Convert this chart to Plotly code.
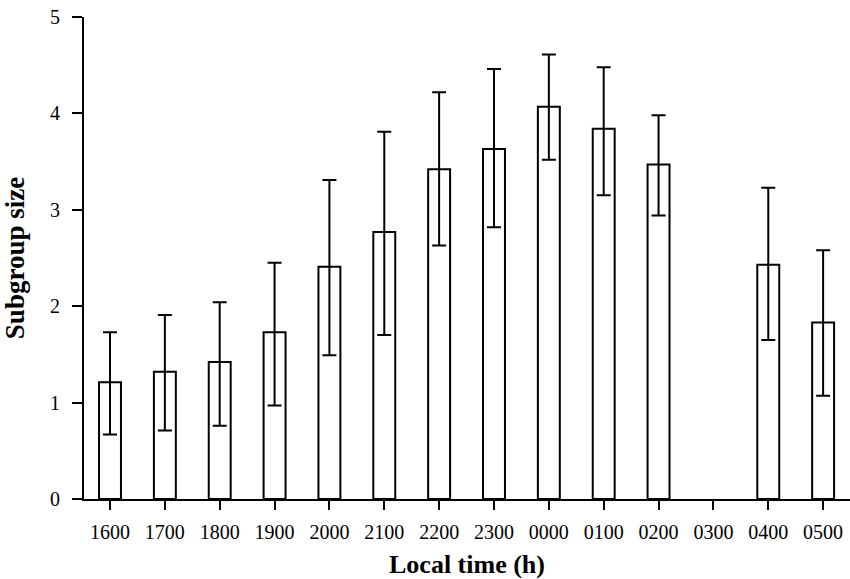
import plotly.graph_objects as go

categories = ["1600", "1700", "1800", "1900", "2000", "2100", "2200",
              "2300", "0000", "0100", "0200", "0300", "0400", "0500"]
mean_size = [1.21, 1.32, 1.42, 1.73, 2.41, 2.77, 3.42,
             3.63, 4.07, 3.84, 3.47, None, 2.43, 1.83]
err_upper = [0.52, 0.59, 0.62, 0.72, 0.90, 1.04, 0.80,
             0.83, 0.54, 0.64, 0.51, None, 0.80, 0.75]
err_lower = [0.54, 0.61, 0.66, 0.76, 0.92, 1.07, 0.79,
             0.81, 0.55, 0.69, 0.53, None, 0.78, 0.76]

fig = go.Figure()
fig.add_trace(go.Bar(
    x=categories,
    y=mean_size,
    width=0.4,
    marker=dict(color="white", line=dict(color="black", width=2)),
    error_y=dict(type="data", symmetric=False, array=err_upper,
                 arrayminus=err_lower, color="black", thickness=2, width=7),
))

font_family = "Liberation Serif, Times New Roman, serif"

fig.update_layout(
    width=850, height=579,
    margin=dict(l=84, r=0, t=17, b=80),
    plot_bgcolor="white", paper_bgcolor="white",
    showlegend=False,
    font=dict(family=font_family, color="black", size=20),
    xaxis=dict(
        type="category",
        categoryorder="array", categoryarray=categories,
        range=[-0.474, 13.49],
        automargin=False,
        showline=True, linecolor="black", linewidth=2,
        ticks="outside", ticklen=9, tickwidth=2, tickcolor="black",
        ticklabelstandoff=5,
        showgrid=False, zeroline=False,
        tickfont=dict(size=20, family=font_family),
        title=dict(text="<b>Local time (h)</b>",
                   font=dict(size=26, family=font_family), standoff=21),
    ),
    yaxis=dict(
        range=[0, 5], dtick=1,
        automargin=True,
        showline=True, linecolor="black", linewidth=2,
        ticks="outside", ticklen=10, tickwidth=2, tickcolor="black",
        ticklabelstandoff=8,
        showgrid=False, zeroline=False,
        tickfont=dict(size=20, family=font_family),
        title=dict(text="<b>Subgroup size</b>",
                   font=dict(size=27, family=font_family), standoff=22),
    ),
)

# remove the page's default body margin so the figure sits at the top-left corner
fig.write_html("out.html", config={"displayModeBar": False},
               post_script="document.body.style.margin='0';")
